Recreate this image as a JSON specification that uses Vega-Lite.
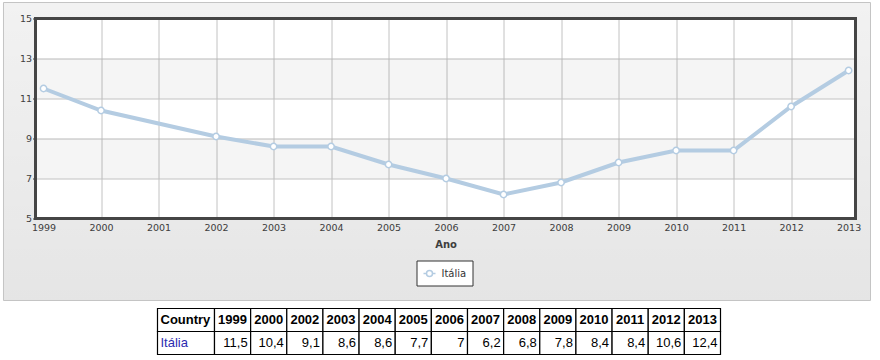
{
  "$schema": "https://vega.github.io/schema/vega-lite/v6.json",
  "background": "white",
  "padding": {"left": 2.5, "top": 1.5, "right": 0, "bottom": 0},
  "datasets": {
    "italia": [
      {"country": "Itália", "year": 1999, "value": 11.5},
      {"country": "Itália", "year": 2000, "value": 10.4},
      {"country": "Itália", "year": 2002, "value": 9.1},
      {"country": "Itália", "year": 2003, "value": 8.6},
      {"country": "Itália", "year": 2004, "value": 8.6},
      {"country": "Itália", "year": 2005, "value": 7.7},
      {"country": "Itália", "year": 2006, "value": 7},
      {"country": "Itália", "year": 2007, "value": 6.2},
      {"country": "Itália", "year": 2008, "value": 6.8},
      {"country": "Itália", "year": 2009, "value": 7.8},
      {"country": "Itália", "year": 2010, "value": 8.4},
      {"country": "Itália", "year": 2011, "value": 8.4},
      {"country": "Itália", "year": 2012, "value": 10.6},
      {"country": "Itália", "year": 2013, "value": 12.4}
    ],
    "bands": [{"lo": 7, "hi": 9}, {"lo": 11, "hi": 13}],
    "countries": [{"country": "Itália"}]
  },
  "spacing": 6,
  "align": "none",
  "vconcat": [
    {
      "width": 820,
      "height": 200,
      "layer": [
        {
          "data": {"values": [{}]},
          "mark": {"type": "rect", "stroke": null, "fill": {"gradient": "linear", "x1": 0, "y1": 0, "x2": 0, "y2": 1, "stops": [{"offset": 0, "color": "rgba(0,0,0,0.05)"}, {"offset": 1, "color": "rgba(0,0,0,0.053)"}]}},
          "encoding": {
            "x": {"datum": 1998.303, "type": "quantitative"}, "x2": {"datum": 2013.381},
            "y": {"datum": 15, "type": "quantitative"}, "y2": {"datum": 15.8}
          }
        },
        {
          "data": {"values": [{}]},
          "mark": {"type": "rect", "stroke": null, "fill": {"gradient": "linear", "x1": 0, "y1": 0, "x2": 0, "y2": 1, "stops": [{"offset": 0, "color": "rgba(0,0,0,0.086)"}, {"offset": 1, "color": "rgba(0,0,0,0.1)"}]}},
          "encoding": {
            "x": {"datum": 1998.303, "type": "quantitative"}, "x2": {"datum": 2013.381},
            "y": {"datum": 5, "type": "quantitative"}, "y2": {"datum": 0.9}
          }
        },
        {
          "data": {"values": [{}]},
          "mark": {"type": "rect", "stroke": null, "fill": {"gradient": "linear", "x1": 0, "y1": 0, "x2": 0, "y2": 1, "stops": [{"offset": 0, "color": "rgba(0,0,0,0.053)"}, {"offset": 1, "color": "rgba(0,0,0,0.086)"}]}},
          "encoding": {
            "x": {"datum": 1998.303, "type": "quantitative"}, "x2": {"datum": 1998.86},
            "y": {"datum": 15, "type": "quantitative"}, "y2": {"datum": 5}
          }
        },
        {
          "data": {"values": [{}]},
          "mark": {"type": "rect", "stroke": null, "fill": {"gradient": "linear", "x1": 0, "y1": 0, "x2": 0, "y2": 1, "stops": [{"offset": 0, "color": "rgba(0,0,0,0.053)"}, {"offset": 1, "color": "rgba(0,0,0,0.086)"}]}},
          "encoding": {
            "x": {"datum": 2013.12, "type": "quantitative"}, "x2": {"datum": 2013.381},
            "y": {"datum": 15, "type": "quantitative"}, "y2": {"datum": 5}
          }
        },
        {
          "data": {"values": [{}]},
          "mark": {"type": "rect", "fillOpacity": 0, "stroke": "#c4c4c4", "strokeWidth": 1},
          "encoding": {
            "x": {"datum": 1998.303, "type": "quantitative"}, "x2": {"datum": 2013.381},
            "y": {"datum": 15.8, "type": "quantitative"}, "y2": {"datum": 0.9}
          }
        },
        {
          "data": {"name": "bands"},
          "mark": {"type": "rect", "fill": "#000", "opacity": 0.04, "stroke": null},
          "encoding": {
            "x": {"datum": 1998.86, "type": "quantitative"}, "x2": {"datum": 2013.12},
            "y": {"field": "lo", "type": "quantitative"}, "y2": {"field": "hi"}
          }
        },
        {
          "data": {"name": "italia"},
          "mark": {"type": "line", "strokeWidth": 4},
          "encoding": {
            "x": {
              "field": "year", "type": "quantitative",
              "scale": {"domain": [1998.86, 2013.12], "nice": false, "zero": false},
              "axis": {
                "values": [1999, 2000, 2001, 2002, 2003, 2004, 2005, 2006, 2007, 2008, 2009, 2010, 2011, 2012, 2013],
                "tickCount": 30,
                "format": "d", "title": "Ano", "labelFlush": false, "labelOverlap": false,
                "labelFont": "DejaVu Sans", "labelFontSize": 9.5, "labelColor": "#444", "labelPadding": 4,
                "ticks": false, "domain": false, "grid": true, "gridColor": "#c2c2c2",
                "gridOpacity": {"condition": {"test": "datum.value == 1999 || datum.value == 2013", "value": 0}, "value": 1},
                "titleFont": "DejaVu Sans", "titleFontSize": 10, "titleFontWeight": "bold", "titleColor": "#444", "titlePadding": 7
              }
            },
            "y": {
              "field": "value", "type": "quantitative",
              "scale": {"domain": [5, 15], "nice": false, "zero": false},
              "axis": {
                "values": [5, 7, 9, 11, 13, 15], "tickCount": 20, "format": "d", "title": null, "labelOverlap": false, "labelFlush": false, "labelBound": false,
                "labelFont": "DejaVu Sans", "labelFontSize": 9.5, "labelColor": "#444", "labelPadding": 1,
                "tickSize": 3, "tickColor": "#444", "domain": false, "grid": true, "gridColor": "#c2c2c2"
              }
            },
            "color": {
              "field": "country", "type": "nominal",
              "scale": {"range": ["#b4cce2"]},
              "legend": {
                "title": null, "orient": "none", "legendX": 381, "legendY": 242,
                "padding": 6, "fillColor": "white", "strokeColor": "#333", "cornerRadius": 0,
                "labelFont": "DejaVu Sans", "labelFontSize": 10, "labelColor": "#333", "labelOffset": 5,
                "symbolType": "M-1,0L-0.5,0M0.5,0L1,0M0.5,0A0.5,0.5,0,1,1,-0.5,0A0.5,0.5,0,1,1,0.5,0",
                "symbolSize": 144, "symbolFillColor": "white", "symbolStrokeWidth": 1.5
              }
            }
          }
        },
        {
          "data": {"name": "italia"},
          "mark": {"type": "point", "filled": false, "fill": "white", "strokeWidth": 1.5, "size": 40, "opacity": 1},
          "encoding": {
            "x": {"field": "year", "type": "quantitative"},
            "y": {"field": "value", "type": "quantitative"},
            "color": {"field": "country", "type": "nominal"}
          }
        },
        {
          "data": {"values": [{}]},
          "mark": {"type": "rect", "fillOpacity": 0, "stroke": "#454545", "strokeWidth": 3},
          "encoding": {
            "x": {"datum": 1998.86, "type": "quantitative"}, "x2": {"datum": 2013.12},
            "y": {"datum": 15, "type": "quantitative"}, "y2": {"datum": 5}
          }
        }
      ]
    },
    {
      "spacing": 0,
      "bounds": "flush",
      "hconcat": [
        {
          "width": 122,
          "height": 46,
          "data": {"values": []},
          "mark": "text",
          "encoding": {}
        },
        {
          "width": 57,
          "height": 46,
          "data": {"name": "countries"},
          "layer": [
            {
              "mark": {"type": "rect", "fill": "white", "stroke": "#000", "strokeWidth": 1.2},
              "encoding": {
                "x": {"datum": "Country", "type": "nominal", "axis": null, "scale": {"paddingInner": 0, "paddingOuter": 0}},
                "y": {"datum": "h", "type": "nominal", "axis": null, "scale": {"domain": ["h", "d"], "paddingInner": 0, "paddingOuter": 0}}
              }
            },
            {
              "mark": {"type": "rect", "fill": "white", "stroke": "#000", "strokeWidth": 1.2},
              "encoding": {
                "x": {"datum": "Country", "type": "nominal"},
                "y": {"datum": "d", "type": "nominal"}
              }
            },
            {
              "mark": {"type": "text", "text": "Country", "font": "Liberation Sans", "fontSize": 13, "fontWeight": "bold", "color": "#000", "align": "left", "baseline": "middle", "dx": 3},
              "encoding": {
                "x": {"datum": "Country", "type": "nominal", "bandPosition": 0},
                "y": {"datum": "h", "type": "nominal", "bandPosition": 0.5}
              }
            },
            {
              "mark": {"type": "text", "font": "Liberation Sans", "fontSize": 13, "color": "#2b2bb0", "align": "left", "baseline": "middle", "dx": 3},
              "encoding": {
                "x": {"datum": "Country", "type": "nominal", "bandPosition": 0},
                "y": {"datum": "d", "type": "nominal", "bandPosition": 0.5},
                "text": {"field": "country", "type": "nominal"}
              }
            }
          ]
        },
        {
          "width": 506,
          "height": 46,
          "data": {"name": "italia"},
          "layer": [
            {
              "mark": {"type": "rect", "fill": "white", "stroke": "#000", "strokeWidth": 1.2},
              "encoding": {
                "x": {"field": "year", "type": "ordinal", "axis": null, "scale": {"paddingInner": 0, "paddingOuter": 0}},
                "y": {"datum": "h", "type": "nominal", "axis": null, "scale": {"domain": ["h", "d"], "paddingInner": 0, "paddingOuter": 0}}
              }
            },
            {
              "mark": {"type": "rect", "fill": "white", "stroke": "#000", "strokeWidth": 1.2},
              "encoding": {
                "x": {"field": "year", "type": "ordinal"},
                "y": {"datum": "d", "type": "nominal"}
              }
            },
            {
              "mark": {"type": "text", "font": "Liberation Sans", "fontSize": 13, "fontWeight": "bold", "color": "#000", "align": "center", "baseline": "middle"},
              "encoding": {
                "x": {"field": "year", "type": "ordinal", "bandPosition": 0.5},
                "y": {"datum": "h", "type": "nominal", "bandPosition": 0.5},
                "text": {"field": "year", "type": "ordinal"}
              }
            },
            {
              "mark": {"type": "text", "font": "Liberation Sans", "fontSize": 13, "color": "#000", "align": "right", "baseline": "middle", "dx": -3},
              "encoding": {
                "x": {"field": "year", "type": "ordinal", "bandPosition": 1},
                "y": {"datum": "d", "type": "nominal", "bandPosition": 0.5},
                "text": {"field": "value", "type": "quantitative", "format": ".1~f"}
              }
            }
          ]
        }
      ]
    }
  ],
  "config": {
    "view": {"stroke": null, "fill": "white"},
    "axisY": {"labelOverlap": false},
    "locale": {"number": {"decimal": ",", "thousands": ".", "grouping": [3], "currency": ["", " €"]}}
  }
}
